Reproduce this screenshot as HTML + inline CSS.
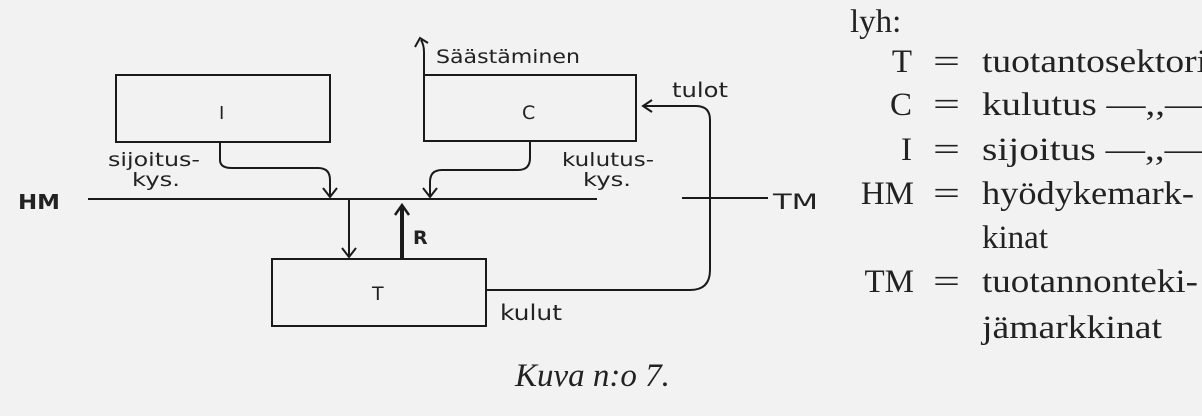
<!DOCTYPE html>
<html><head><meta charset="utf-8"><style>
body{margin:0;background:#f3f2f2;}
svg{display:block}
.h{font-family:"DejaVu Sans","Liberation Sans",sans-serif;fill:#222}
.s{font-family:"Liberation Serif",serif;fill:#222;font-size:33px}
</style></head><body>
<svg width="1202" height="416" viewBox="0 0 1202 416" xmlns="http://www.w3.org/2000/svg">
<g stroke="#1a1a1a" stroke-width="2" fill="none">
<rect x="116" y="75" width="214" height="67"/>
<rect x="424" y="75" width="212" height="66"/>
<rect x="272" y="259" width="214" height="67"/>
<line x1="88" y1="199" x2="597" y2="199"/>
<line x1="682" y1="198" x2="768" y2="198"/>
<path d="M220 142 V160 Q220 168 232 168 H318 Q330 168 330 180 V197"/>
<path d="M323 188 L330 197 L337 188"/>
<path d="M530 141 V158 Q530 170 518 170 H442 Q430 170 430 182 V197"/>
<path d="M423 188 L430 197 L437 188"/>
<path d="M349 199 V257"/><path d="M342 248 L349 257 L356 248"/>
<path d="M402 259 V207" stroke-width="4"/><path d="M395 215 L402 205 L409 215" stroke-width="2.5"/>
<path d="M486 290 H690 Q710 290 710 270 V120 Q710 106 696 106 H644"/>
<path d="M652 100 L643 106 L652 112"/>
<path d="M424 75 V52 Q424 45 421 40"/><path d="M415 47 L420 38 L428 43"/>
</g>
<g lengthAdjust="spacingAndGlyphs">
<text class="h" x="219" y="119" font-size="18">I</text>
<text class="h" x="522" y="119" font-size="19">C</text>
<text class="h" x="372" y="300" font-size="19">T</text>
<text class="h" x="436" y="63" font-size="19" textLength="144" lengthAdjust="spacingAndGlyphs">Säästäminen</text>
<text class="h" x="672" y="97" font-size="20" textLength="56" lengthAdjust="spacingAndGlyphs">tulot</text>
<text class="h" x="108" y="166" font-size="19" textLength="92" lengthAdjust="spacingAndGlyphs">sijoitus-</text>
<text class="h" x="132" y="186" font-size="19" textLength="48" lengthAdjust="spacingAndGlyphs">kys.</text>
<text class="h" x="562" y="166" font-size="19" textLength="92" lengthAdjust="spacingAndGlyphs">kulutus-</text>
<text class="h" x="583" y="186" font-size="19" textLength="48" lengthAdjust="spacingAndGlyphs">kys.</text>
<text class="h" x="18" y="209" font-size="20" font-weight="bold" textLength="42" lengthAdjust="spacingAndGlyphs">HM</text>
<text class="h" x="773" y="209" font-size="21" textLength="45" lengthAdjust="spacingAndGlyphs">TM</text>
<text class="h" x="413" y="244" font-size="19" font-weight="bold">R</text>
<text class="h" x="500" y="320" font-size="21" textLength="62" lengthAdjust="spacingAndGlyphs">kulut</text>
</g>
<text class="s" x="515" y="386" font-style="italic" font-size="29">Kuva n:o 7.</text>
<text class="s" x="850" y="32">lyh:</text>
<text class="s" x="912" y="72" text-anchor="end">T</text>
<text class="s" x="912" y="115" text-anchor="end">C</text>
<text class="s" x="912" y="160" text-anchor="end">I</text>
<text class="s" x="914" y="204" text-anchor="end">HM</text>
<text class="s" x="914" y="292" text-anchor="end">TM</text>
<text class="s" x="933" y="72" textLength="27" lengthAdjust="spacingAndGlyphs">=</text>
<text class="s" x="933" y="115" textLength="27" lengthAdjust="spacingAndGlyphs">=</text>
<text class="s" x="933" y="160" textLength="27" lengthAdjust="spacingAndGlyphs">=</text>
<text class="s" x="933" y="204" textLength="27" lengthAdjust="spacingAndGlyphs">=</text>
<text class="s" x="933" y="292" textLength="27" lengthAdjust="spacingAndGlyphs">=</text>
<text class="s" x="982" y="72" textLength="225" lengthAdjust="spacingAndGlyphs">tuotantosektori</text>
<text class="s" x="982" y="115" textLength="222" lengthAdjust="spacingAndGlyphs">kulutus  —,,—</text>
<text class="s" x="982" y="160" textLength="222" lengthAdjust="spacingAndGlyphs">sijoitus  —,,—</text>
<text class="s" x="982" y="204" textLength="212" lengthAdjust="spacingAndGlyphs">hyödykemark-</text>
<text class="s" x="982" y="248">kinat</text>
<text class="s" x="982" y="292" textLength="216" lengthAdjust="spacingAndGlyphs">tuotannonteki-</text>
<text class="s" x="982" y="338" textLength="180" lengthAdjust="spacingAndGlyphs">jämarkkinat</text>
</svg>
</body></html>
